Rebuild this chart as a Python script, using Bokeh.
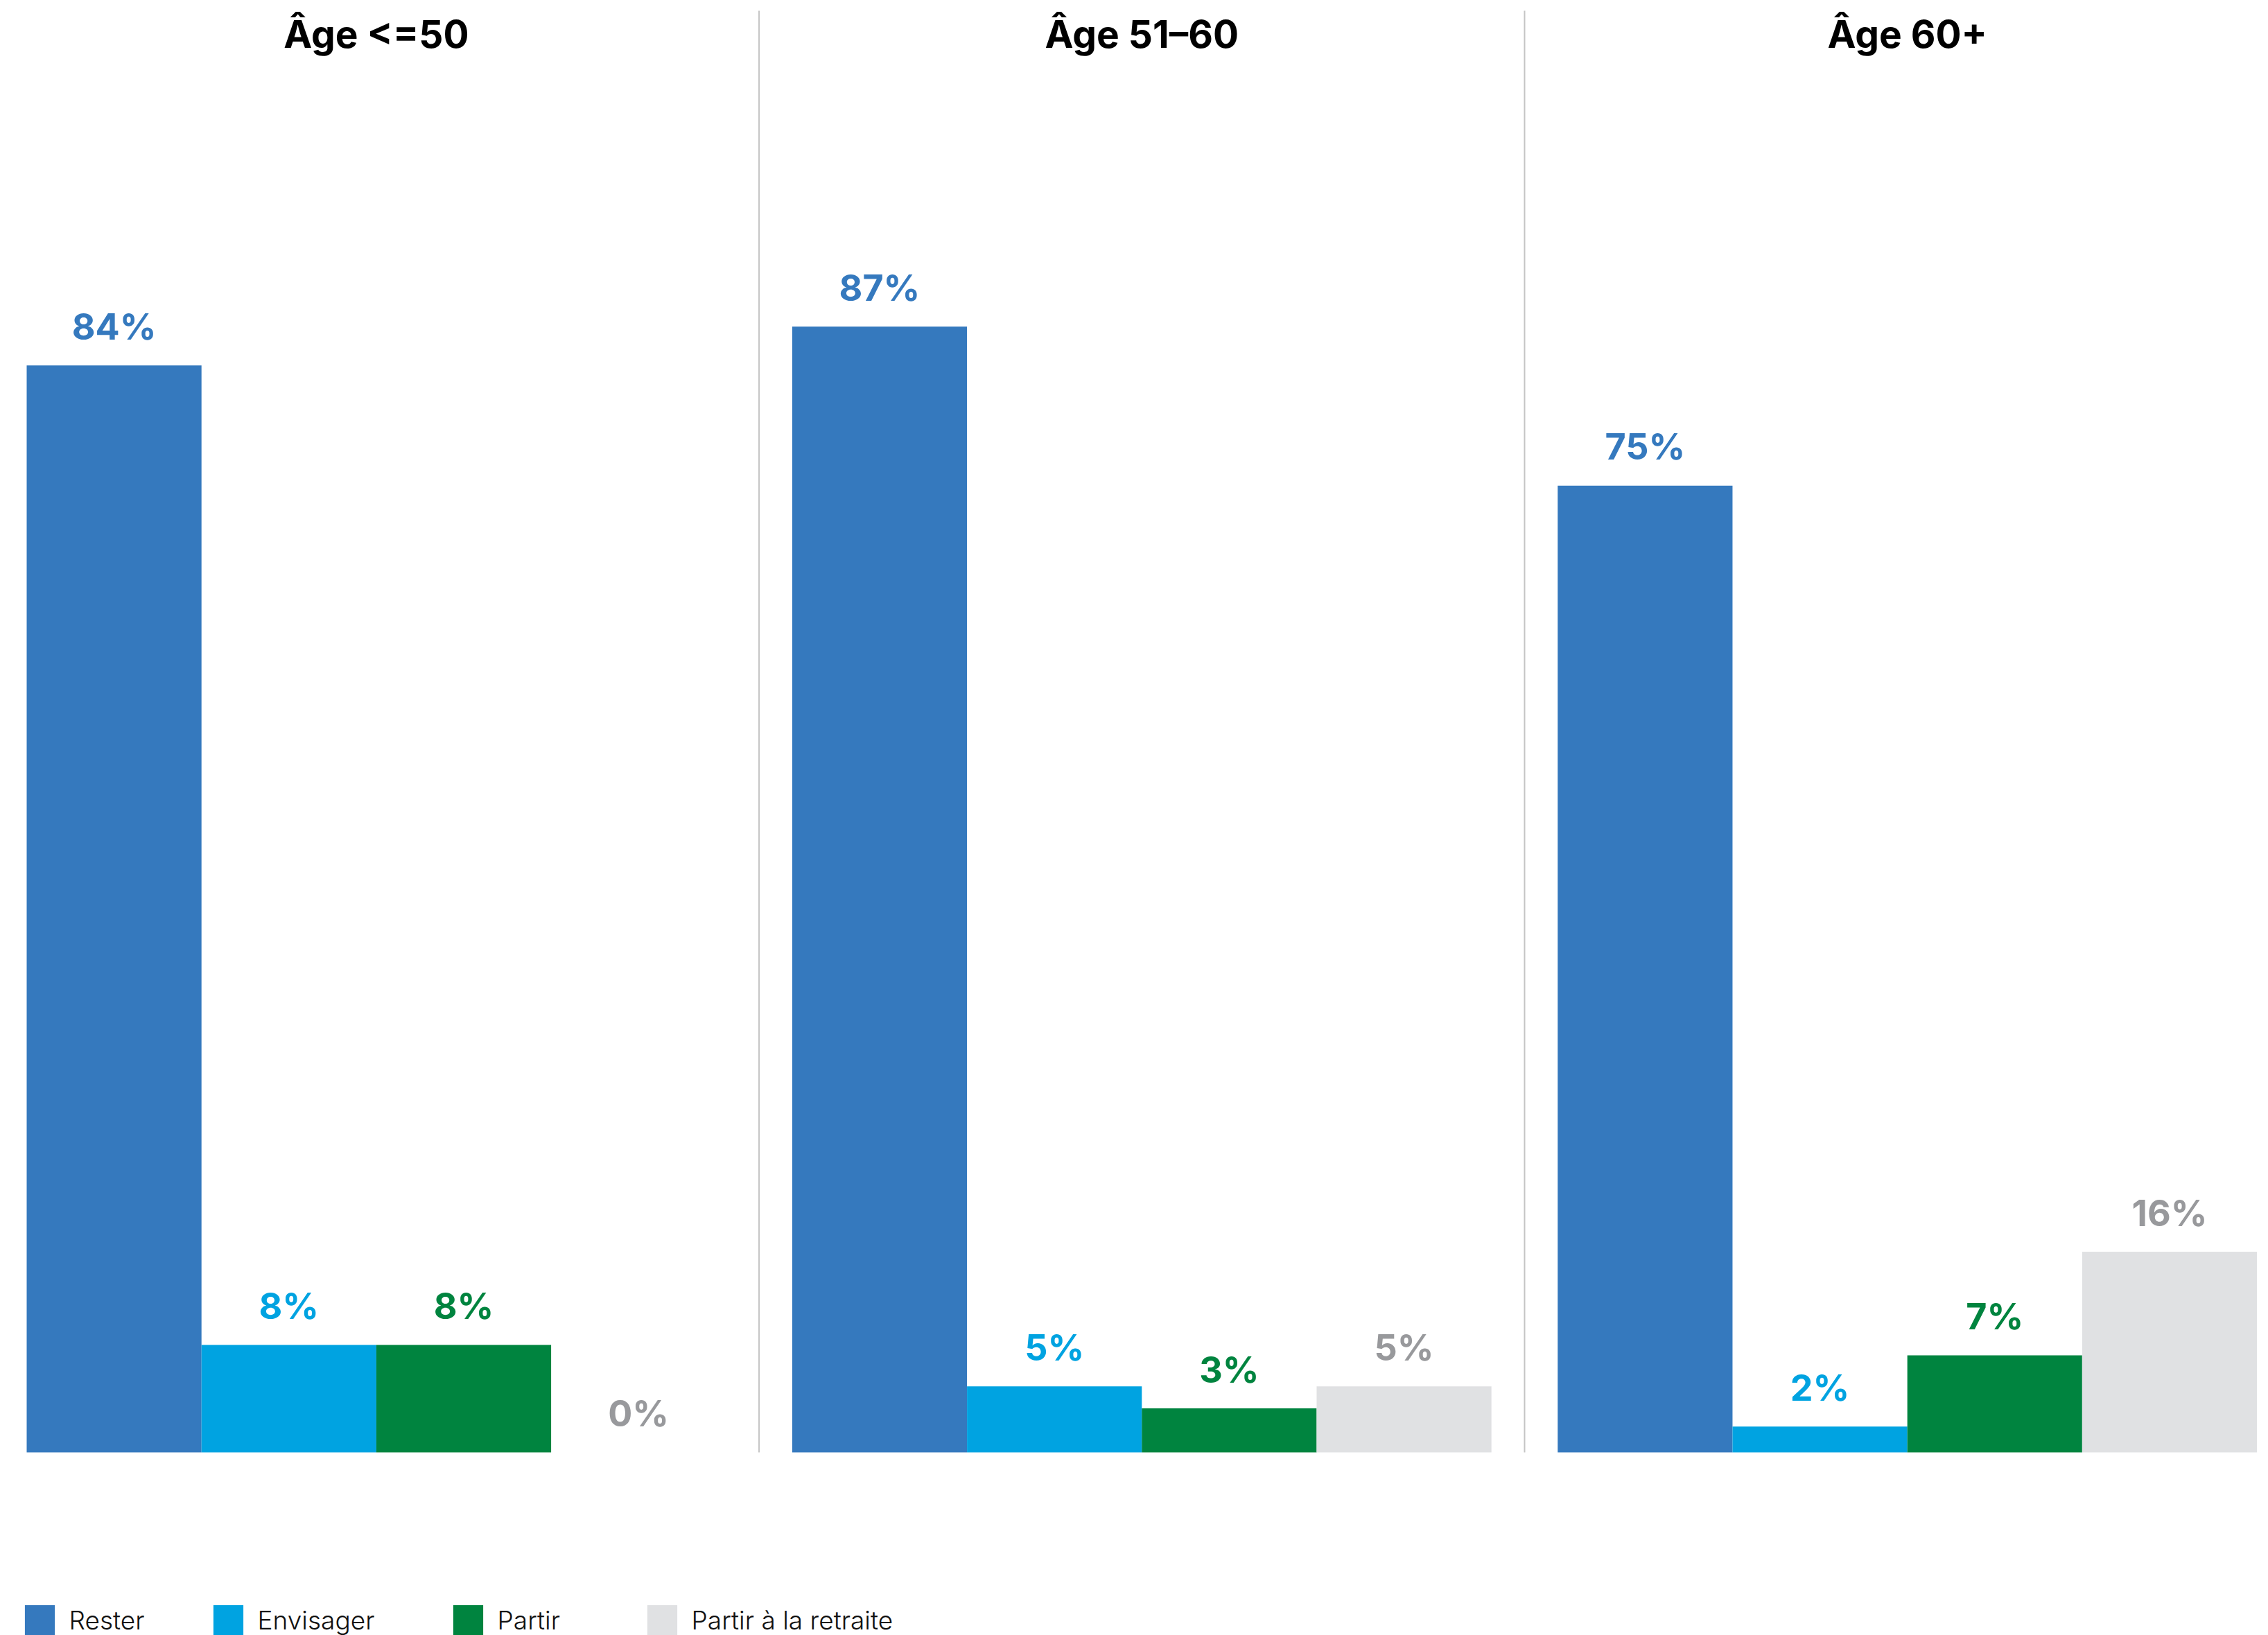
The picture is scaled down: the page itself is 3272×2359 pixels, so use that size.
from bokeh.plotting import figure
from bokeh.models import Range1d, Legend, LegendItem, ColumnDataSource
from bokeh.core.properties import value
from bokeh.embed import file_html
from bokeh.resources import INLINE

# ---------------- data ----------------
groups = ["Âge <=50", "Âge 51–60", "Âge 60+"]
series = ["Rester", "Envisager", "Partir", "Partir à la retraite"]
rester = [84.0, 87.0, 74.7]
envisager = [8.3, 5.1, 2.0]
partir = [8.3, 3.4, 7.5]
retraite = [0.0, 5.1, 15.5]
rester_lbl = ["84%", "87%", "75%"]
envisager_lbl = ["8%", "5%", "2%"]
partir_lbl = ["8%", "3%", "7%"]
retraite_lbl = ["0%", "5%", "16%"]

bar_colors = ["#3579BE", "#00A3E1", "#00843F", "#E0E1E3"]
label_colors = ["#3579BE", "#00A3E1", "#00843F", "#98999C"]

# ---------------- layout constants (px of the 3272x2359 canvas) ----------------
W, H = 3272, 2359
PAGE = 0
BAR0 = 38.0          # left edge of the first bar
UNIT = 252.2         # bar width in px
GAP = 0.379          # gap between groups, in bar widths
BASE = 2095.0        # baseline y
PPU = 18.67          # px per percent
TITLE_BASE = 48.0
DIV_TOP = 15.0
LABEL_GAP = 56.0

x0 = (PAGE - BAR0) / UNIT
x1 = (PAGE + W - BAR0) / UNIT
y1 = (BASE - PAGE) / PPU
y0 = -(PAGE + H - BASE) / PPU

p = figure(width=W, height=H, output_backend="svg", toolbar_location=None,
           x_range=Range1d(x0, x1), y_range=Range1d(y0, y1),
           x_axis_location=None, y_axis_location=None,
           min_border=0, min_border_left=0, min_border_right=0,
           min_border_top=0, min_border_bottom=0)
p.outline_line_color = None
p.grid.visible = False
p.background_fill_color = "white"
p.border_fill_color = "white"

all_vals = [rester, envisager, partir, retraite]
all_lbls = [rester_lbl, envisager_lbl, partir_lbl, retraite_lbl]

renderers = []
for j, (vals, lbls) in enumerate(zip(all_vals, all_lbls)):
    xs = [i * (4 + GAP) + j + 0.5 for i in range(len(groups))]
    src = ColumnDataSource(dict(
        x=xs, top=vals, lbl=lbls,
        ly=[v + LABEL_GAP / PPU for v in vals]))
    r = p.vbar(x="x", top="top", bottom=0, width=1.0, source=src,
               fill_color=bar_colors[j], line_color=None)
    renderers.append(r)
    p.text(x="x", y="ly", text="lbl", source=src,
           text_font=value("Inter"), text_font_style="bold",
           text_font_size="52px", text_color=label_colors[j],
           text_align="center", text_baseline="alphabetic")

# group titles
tsrc = ColumnDataSource(dict(
    x=[i * (4 + GAP) + 2 for i in range(len(groups))],
    y=[(BASE - TITLE_BASE) / PPU] * len(groups),
    t=groups))
p.text(x="x", y="y", text="t", source=tsrc, text_font=value("Inter"),
       text_font_style="bold", text_font_size="55px", text_color="#000000",
       text_align="center", text_baseline="alphabetic")

# dividers between groups
dx = [i * (4 + GAP) - GAP / 2 for i in range(1, len(groups))]
p.segment(x0=dx, y0=[0] * len(dx), x1=dx, y1=[(BASE - DIV_TOP) / PPU] * len(dx),
          line_color="#C4C4C4", line_width=2)

# legend: one item per legend box, positioned individually
leg_x = [35, 307, 653, 933]
GLYPH = 54  # bokeh draws bar legend swatches at 80% of the glyph box
for j, name in enumerate(series):
    lg = Legend(items=[LegendItem(label=name, renderers=[renderers[j]])],
                location=(leg_x[j] - PAGE - GLYPH * 0.1, -5),
                orientation="horizontal",
                glyph_width=GLYPH, glyph_height=GLYPH, label_standoff=16,
                label_text_font="Inter Light, Inter", label_text_font_size="37px",
                label_text_color="#111111", label_height=GLYPH,
                padding=0, margin=0, spacing=0,
                border_line_color=None, background_fill_alpha=0)
    p.add_layout(lg)

open("out.html", "w").write(file_html(p, INLINE))
